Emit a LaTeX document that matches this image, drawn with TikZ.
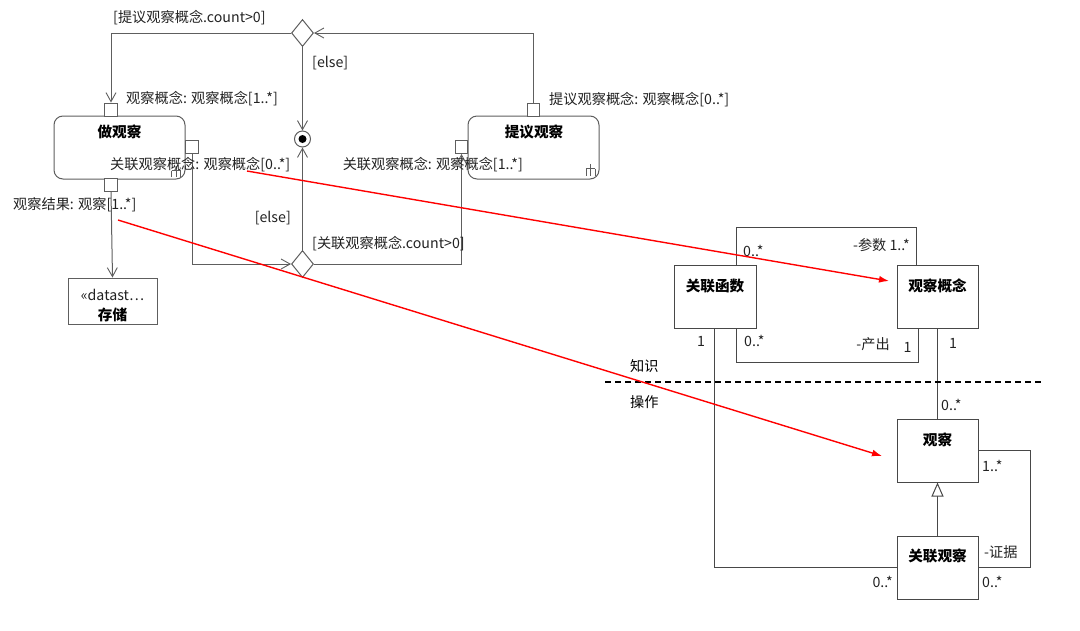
\documentclass[tikz,border=0pt]{standalone}
\usepackage{fontspec}
\setmainfont{Noto Sans CJK SC}
\usetikzlibrary{arrows.meta,shapes.geometric}
\definecolor{ln}{HTML}{5E5E5E}
\definecolor{bx}{HTML}{484848}
\definecolor{tx}{HTML}{222222}
\definecolor{rd}{HTML}{FF0000}
\begin{document}
\begin{tikzpicture}[x=1pt,y=-1pt,
  lbl/.style={font=\fontsize{14.2}{16}\selectfont, text=tx, inner sep=0pt},
  ttl/.style={font=\bfseries\fontsize{14.6}{16}\selectfont, text=black, inner sep=0pt},
  action/.style={draw=ln, line width=1pt, rounded corners=9pt, minimum width=131pt, minimum height=63pt, inner sep=0pt},
  pin/.style={draw=ln, line width=1pt, fill=white, minimum width=12.5pt, minimum height=13pt, inner sep=0pt},
  decision/.style={draw=ln, line width=1pt, fill=white, diamond, minimum width=22pt, minimum height=27pt, inner sep=0pt},
  cls/.style={draw=bx, line width=1pt, fill=white, minimum width=81pt, minimum height=63pt, inner sep=0pt},
  flow/.style={draw=ln, line width=1pt, -{Straight Barb[length=9pt,width=10pt,line width=0.9pt]}},
  assoc/.style={draw=bx, line width=1pt},
  redarrow/.style={draw=rd, line width=1.4pt, -{Latex[length=10pt,width=7pt]}}
]
\useasboundingbox (0,0) rectangle (1080,630);

% ---------------- activity part ----------------
\node[action] (act1) at (119.5,147.5) {};
\node[ttl] (act1t) at (119.5,132) {做观察};
\node[action] (act2) at (533.5,147.5) {};
\node[ttl] (act2t) at (534,132) {提议观察};

% rake symbols
\draw[ln, line width=0.9pt] (176,166) -- (176,177) (171.5,170.5) -- (180.5,170.5) (171.5,170.5) -- (171.5,177) (180.5,170.5) -- (180.5,177);
\draw[ln, line width=0.9pt] (590.5,164) -- (590.5,176) (586,168.5) -- (595,168.5) (586,168.5) -- (586,176) (595,168.5) -- (595,176);

\node[pin] (p1top) at (111,109.5) {};
\node[pin] (p1right) at (192,146.5) {};
\node[pin] (p1bot) at (111,185) {};
\node[pin] (p2top) at (533.5,109.5) {};
\node[pin] (p2left) at (461.5,147) {};

\node[decision] (d1) at (302.5,33) {};
\node[decision] (d2) at (302.5,264) {};

\node[circle, draw=ln, line width=1pt, fill=white, minimum size=16pt, inner sep=0pt] (fin) at (302.5,139) {};
\node[circle, fill=black, minimum size=8pt, inner sep=0pt] (findot) at (302.5,139) {};

\node[draw=ln, line width=1pt, minimum width=89pt, minimum height=46pt, inner sep=0pt] (store) at (112.5,301) {};
\node[lbl] (storet1) at (112.5,295) {«datast…};
\node[ttl] (storet2) at (112.5,314.5) {存储};

\draw[flow] (p2top.north) |- (d1.east);
\draw[flow] (d1.west) -| (p1top.north);
\draw[flow] (d1.south) -- (fin.north);
\draw[flow] (d2.north) -- (fin.south);
\draw[flow] (p1right.south) |- (d2.west);
\draw[flow] (d2.east) -| (p2left.south);
\draw[flow] (p1bot.south) -- (store.north);

\node[lbl, anchor=west] (g1) at (113,18) {[提议观察概念.count>0]};
\node[lbl, anchor=west] (g2) at (312,63) {[else]};
\node[lbl, anchor=west] (l1) at (126,99) {观察概念: 观察概念[1..*]};
\node[lbl, anchor=west] (l2) at (549,100) {提议观察概念: 观察概念[0..*]};
\node[lbl, anchor=west] (l3) at (110,165) {关联观察概念: 观察概念[0..*]};
\node[lbl, anchor=east] (l4) at (523,165) {关联观察概念: 观察概念[1..*]};
\node[lbl, anchor=west] (l5) at (13,205) {观察结果: 观察[1..*]};
\node[lbl, anchor=east] (g3) at (291,218) {[else]};
\node[lbl, anchor=west] (g4) at (312,244) {[关联观察概念.count>0]};

% ---------------- class part ----------------
\node[cls, minimum width=82pt] (cf) at (715,296.5) {};
\node[ttl] (cft) at (715,286) {关联函数};
\node[cls] (oc) at (937.5,296.5) {};
\node[ttl] (oct) at (937.5,286) {观察概念};
\node[cls] (ob) at (937.5,450.5) {};
\node[ttl] (obt) at (937.5,440) {观察};
\node[cls] (ro) at (937.5,567.5) {};
\node[ttl] (rot) at (937.5,556) {关联观察};

\draw[assoc] ([xshift=21pt]cf.north) -- ++(0,-37) -| ([xshift=-21.5pt]oc.north);
\draw[assoc] ([xshift=21pt]cf.south) -- ++(0,34) -| ([xshift=-19.5pt]oc.south);
\draw[assoc] ([xshift=-1pt]cf.south) |- (ro.west);
\draw[assoc] (oc.south) -- (ob.north);
\draw[assoc, -{Triangle[open, length=14pt, width=12pt, fill=white]}] (ro.north) -- (ob.south);
\draw[assoc] (ob.east) -- ++(52,0) |- (ro.east);

\draw[black, line width=1.4pt, dash pattern=on 6pt off 4pt] (605,382) -- (1043,382);
\node[lbl, anchor=west, text=black] (kn) at (630,366) {知识};
\node[lbl, anchor=west, text=black] (op) at (630,402) {操作};

\node[lbl, anchor=west] (m1) at (743,251) {0..*};
\node[lbl, anchor=east] (m2) at (910,245) {-参数 1..*};
\node[lbl] (m3) at (701,341) {1};
\node[lbl, anchor=west] (m4) at (744,341) {0..*};
\node[lbl, anchor=east] (m5) at (890,344) {-产出};
\node[lbl] (m6) at (907.5,347) {1};
\node[lbl] (m7) at (953,343) {1};
\node[lbl, anchor=west] (m8) at (941,405) {0..*};
\node[lbl, anchor=west] (m9) at (982,466) {1..*};
\node[lbl, anchor=west] (m10) at (984,552) {-证据};
\node[lbl, anchor=east] (m11) at (893,582) {0..*};
\node[lbl, anchor=west] (m12) at (982,582) {0..*};

% ---------------- red trace arrows ----------------
\coordinate (r1s) at (247,171);
\coordinate (r1e) at (889,281);
\coordinate (r2s) at (118,220);
\coordinate (r2e) at (882,456);
\draw[redarrow] (r1s) -- (r1e);
\draw[redarrow] (r2s) -- (r2e);
\end{tikzpicture}
\end{document}
